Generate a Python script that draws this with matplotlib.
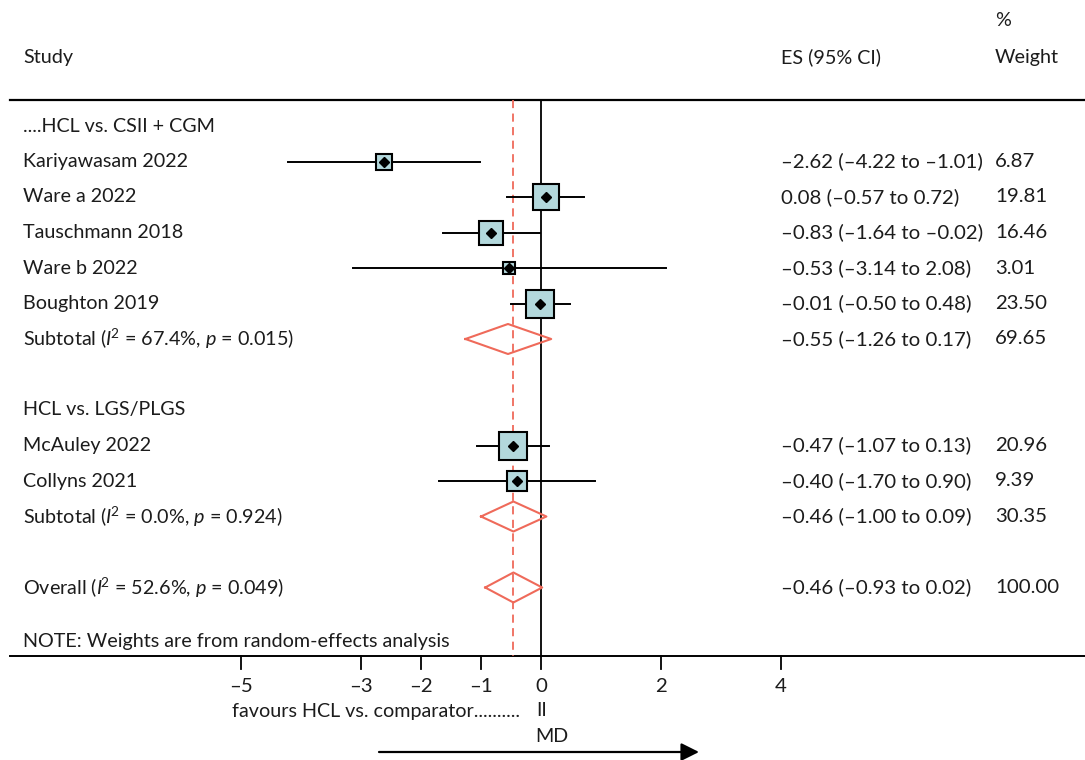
import numpy as np
import matplotlib.pyplot as plt

plt.rcParams['font.family'] = ['Lato', 'DejaVu Sans']
plt.rcParams['mathtext.fontset'] = 'custom'
plt.rcParams['mathtext.rm'] = 'Lato'
plt.rcParams['mathtext.it'] = 'Lato:italic'

# study level data
studies = ['Kariyawasam 2022', 'Ware a 2022', 'Tauschmann 2018', 'Ware b 2022',
           'Boughton 2019', 'McAuley 2022', 'Collyns 2021']
study_rows = [1, 2, 3, 4, 5, 9, 10]
es = [-2.62, 0.08, -0.83, -0.53, -0.01, -0.47, -0.40]
lo = [-4.22, -0.57, -1.64, -3.14, -0.50, -1.07, -1.70]
hi = [-1.01, 0.72, -0.02, 2.08, 0.48, 0.13, 0.90]
weights = [6.87, 19.81, 16.46, 3.01, 23.50, 20.96, 9.39]

# pooled estimates
pooled_labels = ['Subtotal ($I^{\\!2}$ = 67.4%, $p$ = 0.015)',
                 'Subtotal ($I^{\\!2}$ = 0.0%, $p$ = 0.924)',
                 'Overall ($I^{\\!2}$ = 52.6%, $p$ = 0.049)']
pooled_rows = [6, 11, 13]
pooled_es = [-0.55, -0.46, -0.46]
pooled_lo = [-1.26, -1.00, -0.93]
pooled_hi = [0.17, 0.09, 0.02]
pooled_w = [69.65, 30.35, 100.00]

group_labels = ['....HCL vs. CSII + CGM', 'HCL vs. LGS/PLGS']
group_rows = [0, 8]

xticks = [-5, -3, -2, -1, 0, 2, 4]
overall_es = -0.46

TXT = '#1c1c1c'
RED = '#ef6a5a'
BOX = '#b3d8dc'
FS = 14.2
FS_ES = 14.7


def dash(v):
    return f'{v:.2f}'.replace('-', '\u2013')


# pixel helpers (figure is 1085 x 760 px, 0 at x=541, 60 px per unit)
def px_x(p):
    return (p - 541) / 60.0


def px_y(p):
    return (p - 126) / 35.5


fig = plt.figure(figsize=(10.85, 7.6), dpi=100)
ax = fig.add_axes([0, 0, 1, 1])
ax.set_xlim(px_x(0), px_x(1085))
ax.set_ylim(px_y(760), px_y(0))
ax.axis('off')

# headers
ax.text(px_x(23), px_y(57), 'Study', fontsize=FS, color=TXT, va='center')
ax.text(px_x(781), px_y(57), 'ES (95% CI)', fontsize=FS, color=TXT, va='center')
ax.text(px_x(995), px_y(57), 'Weight', fontsize=FS, color=TXT, va='center')
ax.text(px_x(995), px_y(20), '%', fontsize=FS, color=TXT, va='center')

# frame lines
ax.plot([px_x(10), px_x(1085)], [px_y(100)] * 2, color='black', lw=1.6)
ax.plot([px_x(10), px_x(1085)], [px_y(656)] * 2, color='black', lw=1.4)
ax.plot([0, 0], [px_y(100), px_y(656)], color='black', lw=1.3)
ax.plot([overall_es] * 2, [px_y(100), px_y(656)], color=RED, lw=1.3,
        linestyle=(0, (4.5, 3)))

# ticks
for t in xticks:
    ax.plot([t, t], [px_y(656), px_y(669)], color='black', lw=1.3)
    ax.text(t, px_y(687), dash(t).replace('.00', ''), fontsize=FS_ES, color=TXT,
            ha='center', va='center')

for r, g in zip(group_rows, group_labels):
    ax.text(px_x(23), r, g, fontsize=FS, color=TXT, va='center')

# studies
for name, r, e, l, h, w in zip(studies, study_rows, es, lo, hi, weights):
    ax.plot([l, h], [r, r], color='black', lw=1.4, zorder=2)
    side = 4.5 + 5.46 * np.sqrt(w)
    ax.plot(e, r, marker='s', ms=(side - 2) * 0.72, mfc=BOX, mec='black',
            mew=1.5, zorder=3)
    ax.plot(e, r, marker='D', ms=5, color='black', zorder=4)
    ax.text(px_x(23), r, name, fontsize=FS, color=TXT, va='center')
    ax.text(px_x(781), r, f'{dash(e)} ({dash(l)} to {dash(h)})', fontsize=FS_ES,
            color=TXT, va='center')
    ax.text(px_x(995), r, f'{w:.2f}', fontsize=FS_ES, color=TXT, va='center')

# pooled diamonds
half = 15 / 35.5
for lab, r, e, l, h, w in zip(pooled_labels, pooled_rows, pooled_es,
                              pooled_lo, pooled_hi, pooled_w):
    xs = [l, e, h, e, l]
    ys = [r, r - half, r, r + half, r]
    ax.plot(xs, ys, color=RED, lw=1.5, zorder=3)
    ax.text(px_x(23), r, lab, fontsize=FS, color=TXT, va='center')
    ax.text(px_x(781), r, f'{dash(e)} ({dash(l)} to {dash(h)})', fontsize=FS_ES,
            color=TXT, va='center')
    ax.text(px_x(995), r, f'{w:.2f}', fontsize=FS_ES, color=TXT, va='center')

ax.text(px_x(23), px_y(641), 'NOTE: Weights are from random-effects analysis',
        fontsize=FS, color=TXT, va='center')

# bottom labels
ax.text(px_x(520), px_y(711), 'favours HCL vs. comparator..........', fontsize=FS,
        color=TXT, va='center', ha='right')
ax.text(px_x(542), px_y(711), 'II', fontsize=FS, color=TXT, va='center', ha='center')
ax.text(px_x(552), px_y(737), 'MD', fontsize=FS, color=TXT, va='center', ha='center')
ax.annotate('', xy=(px_x(699), px_y(752)), xytext=(px_x(379), px_y(752)),
            arrowprops=dict(arrowstyle='-|>', lw=1.6, color='black',
                            mutation_scale=27, shrinkA=0, shrinkB=0))

fig.savefig('out.png', dpi=100)
